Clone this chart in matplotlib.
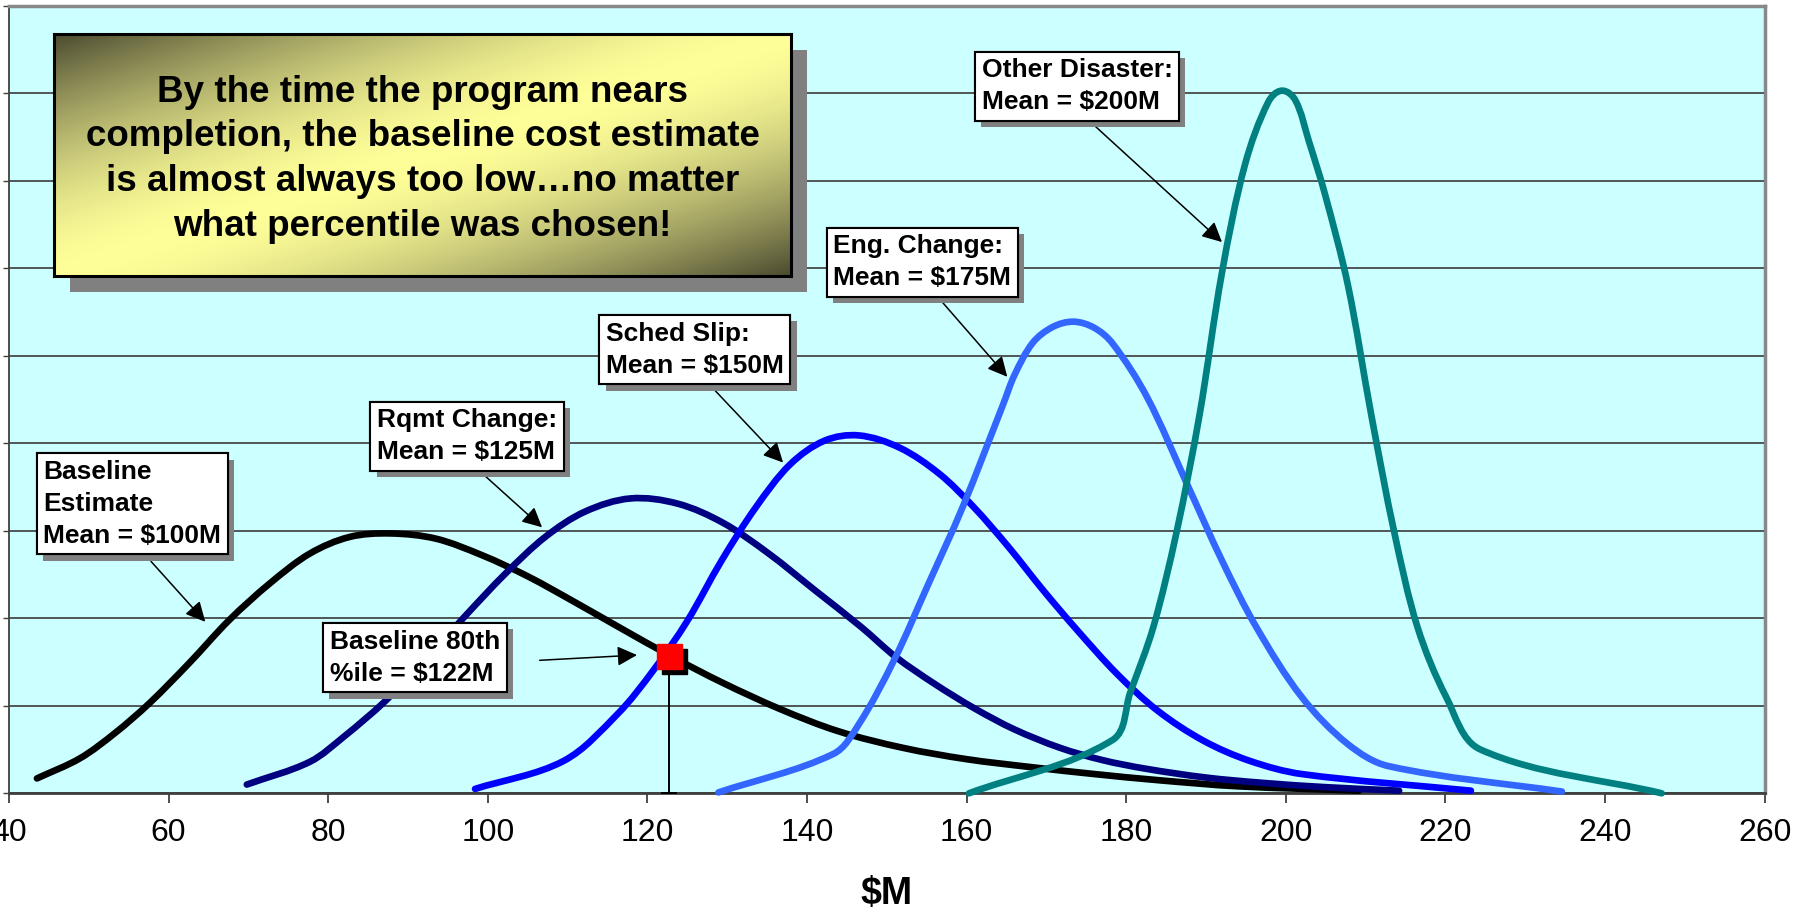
import numpy as np
import matplotlib
matplotlib.use('Agg')
import matplotlib.pyplot as plt
from matplotlib import patheffects, transforms
from matplotlib.patches import Rectangle, PathPatch
from matplotlib.path import Path

plt.rcParams['font.family'] = ['Liberation Sans', 'DejaVu Sans']

# cost distributions ($M vs relative likelihood)
baseline_x = [43.5, 48.9, 53.3, 57.6, 62.6, 67.6, 72.7, 77.7, 82.7, 87.8, 93.5, 99.3, 105.0,
              110.8, 116.6, 123.1, 129.5, 136.7, 143.9, 152.0, 160.0, 168.0, 176.0, 184.0, 194.0, 209.2]
baseline_y = [0.17, 0.40, 0.69, 1.03, 1.49, 1.98, 2.40, 2.74, 2.93, 2.97, 2.91, 2.72, 2.48,
              2.19, 1.89, 1.56, 1.26, 0.96, 0.71, 0.52, 0.39, 0.30, 0.22, 0.15, 0.08, 0.03]

rqmt_x = [69.8, 77.7, 82.0, 87.1, 92.1, 97.1, 102.2, 107.2, 112.2, 117.9, 123.8, 129.5, 135.2,
          141.0, 146.8, 151.1, 156.0, 161.0, 166.0, 171.7, 177.0, 182.5, 190.0, 197.0, 205.0, 214.2]
rqmt_y = [0.10, 0.36, 0.65, 1.05, 1.52, 2.02, 2.51, 2.93, 3.22, 3.37, 3.31, 3.09, 2.74,
          2.32, 1.90, 1.56, 1.25, 0.97, 0.73, 0.52, 0.38, 0.28, 0.18, 0.12, 0.07, 0.03]

sched_x = [98.4, 109.5, 116.3, 120.7, 125.0, 129.3, 133.6, 137.9, 142.2, 146.5, 151.6, 156.6,
           160.9, 165.3, 169.6, 173.9, 178.9, 184.0, 189.7, 195.5, 202.0, 223.2]
sched_y = [0.05, 0.37, 0.91, 1.40, 1.97, 2.66, 3.27, 3.76, 4.03, 4.09, 3.95, 3.65,
           3.27, 2.81, 2.32, 1.86, 1.36, 0.94, 0.60, 0.37, 0.22, 0.03]

eng_x = [128.9, 143.3, 146.5, 150.9, 155.2, 159.5, 164.6, 166.0, 168.3, 170.8, 173.4, 176.0,
         178.3, 182.6, 187.7, 192.0, 196.3, 202.0, 207.8, 212.9, 234.6]
eng_y = [0.01, 0.45, 0.79, 1.52, 2.39, 3.27, 4.45, 4.78, 5.15, 5.33, 5.39, 5.32,
         5.14, 4.53, 3.52, 2.66, 1.90, 1.10, 0.56, 0.31, 0.02]

other_x = [160.3, 178.3, 180.5, 183.4, 186.3, 189.2, 192.0, 194.9, 197.8, 199.5, 201.2, 202.9,
           204.9, 207.8, 210.7, 213.6, 216.5, 220.1, 224.4, 247.1]
other_y = [0.00, 0.61, 1.15, 1.90, 2.98, 4.33, 5.95, 7.19, 7.90, 8.03, 7.92, 7.45,
           6.85, 5.80, 4.33, 2.98, 1.90, 1.10, 0.50, 0.00]

p80_x = 122.7
p80_y = 1.57

curves = [
    (baseline_x, baseline_y, 'black'),
    (rqmt_x, rqmt_y, '#000080'),
    (sched_x, sched_y, '#0000ff'),
    (eng_x, eng_y, '#3366ff'),
    (other_x, other_y, '#008080'),
]

labels = ['Baseline\nEstimate\nMean = $100M', 'Rqmt Change:\nMean = $125M',
          'Sched Slip:\nMean = $150M', 'Eng. Change:\nMean = $175M',
          'Other Disaster:\nMean = $200M', 'Baseline 80th\n%ile = $122M']
# text corner, arrow start, arrow tip (data coords)
label_pos = [(44.3, 3.81), (86.1, 4.40), (114.8, 5.39), (143.3, 6.39), (161.9, 8.40), (80.2, 1.87)]
arrow_from = [(57.8, 2.65), (99.5, 3.64), (128.2, 4.63), (156.7, 5.64), (175.8, 7.65), (106.5, 1.52)]
arrow_to = [(64.6, 1.96), (106.8, 3.04), (137.0, 3.78), (165.1, 4.76), (192.0, 6.30), (118.7, 1.58)]

message = ('By the time the program nears\ncompletion, the baseline cost estimate\n'
           'is almost always too low…no matter\nwhat percentile was chosen!')

W, H = 1803, 910
AX_W, AX_H = 1755.6, 787.5


def smooth_path(xs, ys):
    # smoothed line like the spreadsheet one: bezier through each point, tangents in pixel space
    sx, sy = AX_W / 220, AX_H / 9
    p = np.column_stack([np.asarray(xs) * sx, np.asarray(ys) * sy])
    n = len(p)
    verts = [p[0]]
    codes = [Path.MOVETO]
    for i in range(n - 1):
        a = p[i - 1] if i > 0 else p[i]
        b, c = p[i], p[i + 1]
        d = p[i + 2] if i + 2 < n else p[i + 1]
        seg = np.linalg.norm(c - b)
        t1 = (c - a) / np.linalg.norm(c - a)
        t2 = (d - b) / np.linalg.norm(d - b)
        verts += [b + t1 * seg / 3, c - t2 * seg / 3, c]
        codes += [Path.CURVE4] * 3
    return Path(np.array(verts) / [sx, sy], codes)


fig = plt.figure(figsize=(W / 100, H / 100), dpi=100)
ax = fig.add_axes([9 / W, 1 - 793.3 / H, AX_W / W, AX_H / H])
ax.set_facecolor('#ccffff')
ax.set_xlim(40, 260)
ax.set_ylim(0, 9)
ax.set_xticks(range(40, 261, 20))
ax.set_yticks(range(0, 10))
ax.yaxis.grid(True, color='#3a3a3a', lw=1.2)
ax.set_axisbelow(True)
ax.tick_params(axis='x', direction='out', length=7, width=1.3, color='#404040',
               labelsize=23, pad=11)
ax.tick_params(axis='y', direction='out', length=4, width=1, color='#404040', labelleft=False)
ax.spines['left'].set_color('#404040')
ax.spines['left'].set_linewidth(1.3)
ax.spines['bottom'].set_color('#404040')
ax.spines['bottom'].set_linewidth(2)
for s in ['top', 'right']:
    ax.spines[s].set_color('#888888')
    ax.spines[s].set_linewidth(2.5)

ax.set_xlabel(r'\$M', fontsize=27, fontweight='bold', va='center')
ax.xaxis.set_label_coords(0.5, -0.128)

for i, (xs, ys, c) in enumerate(curves):
    ax.add_patch(PathPatch(smooth_path(xs, ys), fc='none', ec=c, lw=4.8, capstyle='round',
                           joinstyle='round', clip_on=False, zorder=3 + i))

# 80th percentile marker
ax.errorbar([p80_x], [p80_y], yerr=[[p80_y], [0]], fmt='none', ecolor='black',
            elinewidth=1.4, capsize=6, capthick=1.4, zorder=9, clip_on=False)
shadow = transforms.offset_copy(ax.transData, fig=fig, x=5, y=-5, units='dots')
ax.plot(p80_x, p80_y, 's', ms=18, color='black', transform=shadow, zorder=10)
ax.plot(p80_x, p80_y, 's', ms=18, mfc='red', mec='red', zorder=11)

for s, pos, a0, a1 in zip(labels, label_pos, arrow_from, arrow_to):
    t = ax.text(pos[0], pos[1], s, ha='left', va='top', fontsize=19, fontweight='bold',
                linespacing=1.42, zorder=20,
                bbox=dict(boxstyle='square,pad=0.25', fc='white', ec='black', lw=1.5))
    t.get_bbox_patch().set_path_effects([
        patheffects.withSimplePatchShadow(offset=(4.5, -4.5), shadow_rgbFace='#808080', alpha=1.0),
        patheffects.Normal()])
    ax.annotate('', xy=a1, xytext=a0, zorder=19,
                arrowprops=dict(arrowstyle='-|>,head_length=0.6,head_width=0.3', color='black',
                                lw=1.1, mutation_scale=20, shrinkA=0, shrinkB=0))

# gradient call-out box
bx_l, bx_t, bx_w, bx_h = 54, 34, 737, 242
fig.add_artist(Rectangle(((bx_l + 16) / W, 1 - (bx_t + bx_h + 16) / H), bx_w / W, bx_h / H,
                         transform=fig.transFigure, fc='#808080', ec='none', zorder=25))
bx = fig.add_axes([bx_l / W, 1 - (bx_t + bx_h) / H, bx_w / W, bx_h / H], zorder=30)
u = np.linspace(0, 1, bx_w)[None, :]
v = np.linspace(0, 1, bx_h)[:, None]
f = 1 - np.abs(u + v - 1) ** 1.6
dark = np.array([0x4a, 0x4a, 0x30]) / 255
light = np.array([0xff, 0xff, 0x99]) / 255
bx.imshow(dark + (light - dark) * f[..., None], extent=[0, 1, 0, 1], aspect='auto', origin='upper')
bx.set_xlim(0, 1)
bx.set_ylim(0, 1)
bx.set_xticks([])
bx.set_yticks([])
for s in bx.spines.values():
    s.set_linewidth(2.2)
    s.set_color('black')
bx.text(0.5, 0.483, message, ha='center', va='center', fontsize=26.5, fontweight='bold',
        linespacing=1.36, transform=bx.transAxes)

fig.savefig('out.png', dpi=100)
